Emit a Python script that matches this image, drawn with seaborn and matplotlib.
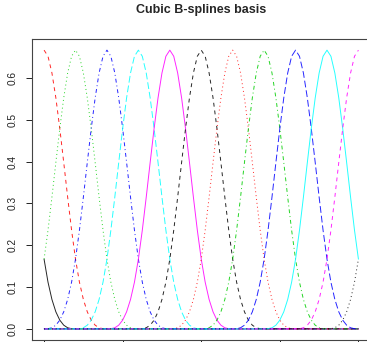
import numpy as np
import pandas as pd
import matplotlib
matplotlib.use("Agg")
import matplotlib.pyplot as plt
import seaborn as sns

# ---- data ----
title = "Cubic B-splines basis"
# centres of the 13 basis functions (in knot units); plotted range is 0..10
centers = [-1, 0, 1, 2, 3, 4, 5, 6, 7, 8, 9, 10, 11]
x_start, x_end, x_step = 0.0, 10.0, 0.125
# one basis profile sampled every 1/8 knot from -2 to +2 knots
profile_half = [0.0, 0.00033, 0.00260, 0.00879, 0.02083, 0.04069, 0.07031,
                0.11165, 0.16667, 0.23600, 0.31510, 0.39811, 0.47917,
                0.55241, 0.61198, 0.65202]
profile_peak = 0.66667
y_ticks = [0.0, 0.1, 0.2, 0.3, 0.4, 0.5, 0.6]
y_tick_labels = ["0.0", "0.1", "0.2", "0.3", "0.4", "0.5", "0.6"]
x_ticks = [0.0, 2.5, 5.0, 7.5, 10.0]
palette_cycle = ["#000000", "#FF0000", "#00CD00", "#0000FF", "#00FFFF", "#FF00FF"]
dash_cycle = ["", (4, 4), (1, 3), (1, 3, 4, 3), (7, 3)]

# ---- build long table ----
profile = profile_half + [profile_peak] + profile_half[::-1]
n_half = len(profile_half)
xs = np.arange(x_start, x_end + x_step / 2, x_step)
rows = []
for i, c in enumerate(centers):
    for x in xs:
        k = int(round((x - c) / x_step)) + n_half
        y = profile[k] if 0 <= k < len(profile) else 0.0
        rows.append((f"b{i+1:02d}", x, y))
df = pd.DataFrame(rows, columns=["basis", "x", "y"])
names = [f"b{i+1:02d}" for i in range(len(centers))]
pal = {n: palette_cycle[i % 6] for i, n in enumerate(names)}
dsh = {n: dash_cycle[i % 5] for i, n in enumerate(names)}

sns.set_theme(style="white")
plt.rcParams["font.family"] = ["Liberation Sans", "DejaVu Sans"]

fig = plt.figure(figsize=(3.67, 3.42), dpi=100)
W, H = 367, 342
L, R, T, B = 31.5, 371, 39, 340
ax = fig.add_axes([L / W, 1 - B / H, (R - L) / W, (B - T) / H])

sns.lineplot(data=df, x="x", y="y", hue="basis", style="basis",
             hue_order=names, style_order=names, palette=pal, dashes=dsh,
             estimator=None, sort=False, legend=False, linewidth=0.7,
             alpha=0.85, ax=ax)

pad_x = 0.04 * (x_end - x_start)
ax.set_xlim(x_start - pad_x, x_end + pad_x)
ymax = profile_peak
ax.set_ylim(-0.04 * ymax, ymax * 1.04)
ax.set_xticks(x_ticks)
ax.set_xticklabels([])
ax.set_yticks(y_ticks)
ax.set_yticklabels(y_tick_labels, rotation=90, va="center", fontsize=7.3)
ax.set_xlabel("")
ax.set_ylabel("")
ax.tick_params(axis="both", direction="out", length=4.3, width=0.7,
               color="#222222", labelcolor="#222222", left=True, bottom=True,
               pad=6)
for s in ax.spines.values():
    s.set_color("#444444")
    s.set_linewidth(0.8)
ax.set_title(title, fontsize=9, fontweight="bold", pad=19)

fig.savefig("out.png", dpi=100)
